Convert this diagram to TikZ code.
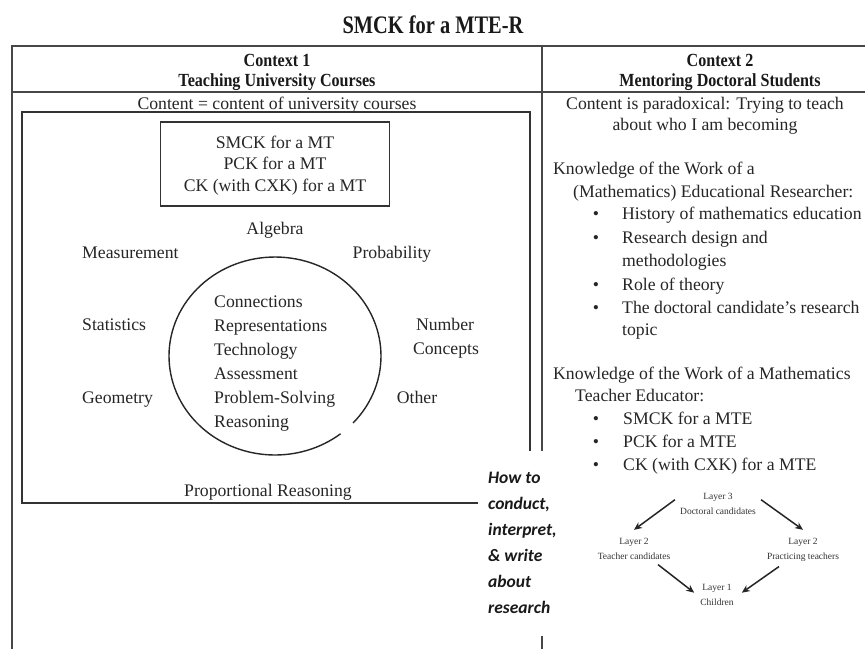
\documentclass[tikz,border=0pt]{standalone}
\usepackage{fontspec}
\setmainfont{Liberation Serif}
\newfontfamily\hfont{Carlito}
\usetikzlibrary{arrows.meta}
\begin{document}
\begin{tikzpicture}[x=1pt,y=-1pt,
  tbl/.style={draw=black!72,line width=1.7pt},
  bx/.style={draw=black!80,line width=1.6pt},
  txt/.style={inner sep=0pt,yshift=-4pt,font=\fontsize{17.7}{21}\selectfont,text=black!85},
  lt/.style={txt,anchor=mid west},
  ct/.style={txt,anchor=mid},
  hd/.style={inner sep=0pt,yshift=-4pt,anchor=mid,text=black!90},
  bul/.style={txt,anchor=mid},
  sm/.style={inner sep=0pt,yshift=-6pt,anchor=mid,align=center,font=\fontsize{9.5}{15}\selectfont,text=black!80},
  arr/.style={draw=black!85,line width=1.5pt,-{Stealth[length=8pt,width=7pt]}},
  res/.style={inner sep=0pt,yshift=-4pt,anchor=mid west,text=black!90,font=\hfont\fontsize{17.5}{22}\bfseries\itshape\selectfont}
]
\useasboundingbox[fill=white] (0,0) rectangle (865,649);

% title
\node[hd] (title) at (433,27) {\scalebox{0.85}[1.05]{\fontsize{24}{28}\bfseries\selectfont SMCK for a MTE-R}};

% table frame
\draw[tbl] (12,649) -- (12,46) -- (865,46);
\draw[tbl] (12,92) -- (865,92);
\draw[tbl] (542,46) -- (542,451);
\draw[tbl] (542,636) -- (542,649);

% headers
\node[hd] (h1a) at (277,60) {\scalebox{0.87}[1]{\fontsize{18.5}{22}\bfseries\selectfont Context 1}};
\node[hd] (h1b) at (277,80) {\scalebox{0.87}[1]{\fontsize{18.5}{22}\bfseries\selectfont Teaching University Courses}};
\node[hd] (h2a) at (720,60) {\scalebox{0.87}[1]{\fontsize{18.5}{22}\bfseries\selectfont Context 2}};
\node[hd] (h2b) at (720,80) {\scalebox{0.87}[1]{\fontsize{18.5}{22}\bfseries\selectfont Mentoring Doctoral Students}};

% context 1
\node[ct] (c1) at (277,103) {Content = content of university courses};
\draw[bx] (478,503) -- (22,503) -- (22,112) -- (530,112) -- (530,451);

\node[bx,draw,inner sep=0pt,minimum width=229,minimum height=84,align=center,
  font=\fontsize{17.7}{21.5}\selectfont,text=black!85] (smck) at (275,164)
  {\rule{0pt}{15pt}SMCK for a MT\\PCK for a MT\\CK (with CXK) for a MT};

\node[ct] (alg) at (275,228) {Algebra};
\node[lt] (mea) at (82,252) {Measurement};
\node[ct] (pro) at (392,252) {Probability};
\node[lt] (sta) at (82,324) {Statistics};
\node[ct] (num) at (445,324) {Number};
\node[ct] (con) at (446,348) {Concepts};
\node[lt] (geo) at (82,397) {Geometry};
\node[ct] (oth) at (417,397) {Other};
\node[ct] (prop) at (268,490) {Proportional Reasoning};

\draw[black!85,line width=1.4pt] (275,356) ++(42.6:106 and 99)
  arc[start angle=42.6,end angle=-308.2,x radius=106,y radius=99];

\node[lt] (i1) at (214,301) {Connections};
\node[lt] (i2) at (214,325) {Representations};
\node[lt] (i3) at (214,349) {Technology};
\node[lt] (i4) at (214,373) {Assessment};
\node[lt] (i5) at (214,397) {Problem-Solving};
\node[lt] (i6) at (214,421) {Reasoning};

% research block
\node[res] (r1) at (488,477) {How to};
\node[res] (r2) at (488,503) {conduct,};
\node[res] (r3) at (488,529) {interpret,};
\node[res] (r4) at (488,555) {\& write};
\node[res] (r5) at (488,581) {about};
\node[res] (r6) at (488,607) {research};

% context 2
\node[ct] (p1) at (705,103) {Content is paradoxical: Trying to teach};
\node[ct] (p2) at (705,124) {about who I am becoming};

\node[lt] (k1) at (553,168) {Knowledge of the Work of a};
\node[lt] (k2) at (573,191) {(Mathematics) Educational Researcher:};
\node[bul] (b1) at (596,213) {\textbullet};
\node[lt] (t1) at (622,213) {History of mathematics education};
\node[bul] (b2) at (596,237) {\textbullet};
\node[lt] (t2) at (622,237) {Research design and};
\node[lt] (t2b) at (622,260) {methodologies};
\node[bul] (b3) at (596,284) {\textbullet};
\node[lt] (t3) at (622,284) {Role of theory};
\node[bul] (b4) at (596,307) {\textbullet};
\node[lt] (t4) at (622,307) {The doctoral candidate's research};
\node[lt] (t4b) at (622,329) {topic};

\node[lt] (k3) at (553,373) {Knowledge of the Work of a Mathematics};
\node[lt] (k4) at (575,395) {Teacher Educator:};
\node[bul] (b5) at (596,418) {\textbullet};
\node[lt] (t5) at (623,418) {SMCK for a MTE};
\node[bul] (b6) at (596,441) {\textbullet};
\node[lt] (t6) at (623,441) {PCK for a MTE};
\node[bul] (b7) at (596,464) {\textbullet};
\node[lt] (t7) at (623,464) {CK (with CXK) for a MTE};

% layers diagram
\node[sm] (l3) at (718,506) {Layer 3\\Doctoral candidates};
\node[sm] (tc) at (634,551) {Layer 2\\Teacher candidates};
\node[sm] (pt) at (803,551) {Layer 2\\Practicing teachers};
\node[sm] (ch) at (717,597) {Layer 1\\Children};

\draw[arr] ([xshift=-5pt,yshift=4pt]l3.west) -- ([yshift=8pt]tc.north);
\draw[arr] ([xshift=5pt,yshift=4pt]l3.east) -- ([yshift=8pt]pt.north);
\draw[arr] ([xshift=24pt,yshift=-5pt]tc.south) -- ([xshift=-6pt,yshift=2pt]ch.west);
\draw[arr] ([xshift=-24pt,yshift=-5pt]pt.south) -- ([xshift=8pt,yshift=2pt]ch.east);
\end{tikzpicture}
\end{document}
